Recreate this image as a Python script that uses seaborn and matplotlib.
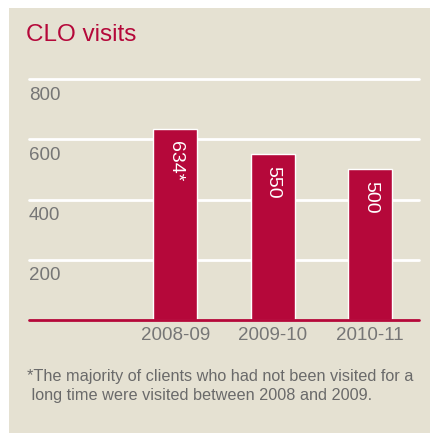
import matplotlib
matplotlib.use("Agg")
import matplotlib.pyplot as plt
from matplotlib.patches import Rectangle
import seaborn as sns
import pandas as pd

# datos
periods = ["2008-09", "2009-10", "2010-11"]
visits = [634, 550, 500]
bar_labels = ["634*", "550", "500"]
y_ticks = [200, 400, 600, 800]
title = "CLO visits"
footnote = ("*The majority of clients who had not been visited for a\n"
            " long time were visited between 2008 and 2009.")

RED = "#B5083A"
BEIGE = "#E5E1D2"
GRAY = "#767676"

sns.set_theme(style="white")
plt.rcParams["font.family"] = ["Liberation Sans", "DejaVu Sans"]

W, H = 430, 433
fig = plt.figure(figsize=(W / 100, H / 100), dpi=100)
fig.patch.set_facecolor("white")
# panel beige
fig.add_artist(Rectangle((9 / W, -0.01), 1, 1.01 - 8 / H, transform=fig.transFigure,
                         facecolor=BEIGE, edgecolor="none", zorder=0))

# ejes: x 29..419 px, y 79..320 px (desde arriba)
ax = fig.add_axes([29 / W, 1 - 320 / H, 390 / W, 241 / H])
ax.set_facecolor("none")

df = pd.DataFrame({"period": periods, "visits": visits})
sns.barplot(data=df, x="period", y="visits", color=RED, saturation=1,
            width=0.45, edgecolor="white", linewidth=1, ax=ax, zorder=3)

ax.set_xlim(-1.5, 2.5)
ax.set_ylim(0, 800)
for t in y_ticks:
    ax.axhline(t, color="white", lw=2, zorder=1, clip_on=False)
    ax.text(0.0, t - 25, str(t), transform=ax.get_yaxis_transform(),
            ha="left", va="top", fontsize=13.5, color=GRAY)
ax.axhline(0, color=RED, lw=2, zorder=4, clip_on=False)

for i, (v, lab) in enumerate(zip(visits, bar_labels)):
    ax.text(i, v - 40, lab, rotation=-90, ha="center", va="top",
            color="white", fontsize=14, zorder=5)

ax.set_yticks([])
ax.set_xlabel("")
ax.set_ylabel("")
ax.tick_params(axis="x", length=0, pad=5, labelsize=13.5, labelcolor=GRAY)
for s in ax.spines.values():
    s.set_visible(False)

fig.text(26 / W, 1 - 35 / H, title, color=RED, fontsize=17.5,
         ha="left", va="center")
fig.text(27 / W, 1 - 386 / H, footnote, color="#6a6a6a", fontsize=11.7,
         ha="left", va="center", linespacing=1.35)

fig.savefig("out.png", dpi=100)
